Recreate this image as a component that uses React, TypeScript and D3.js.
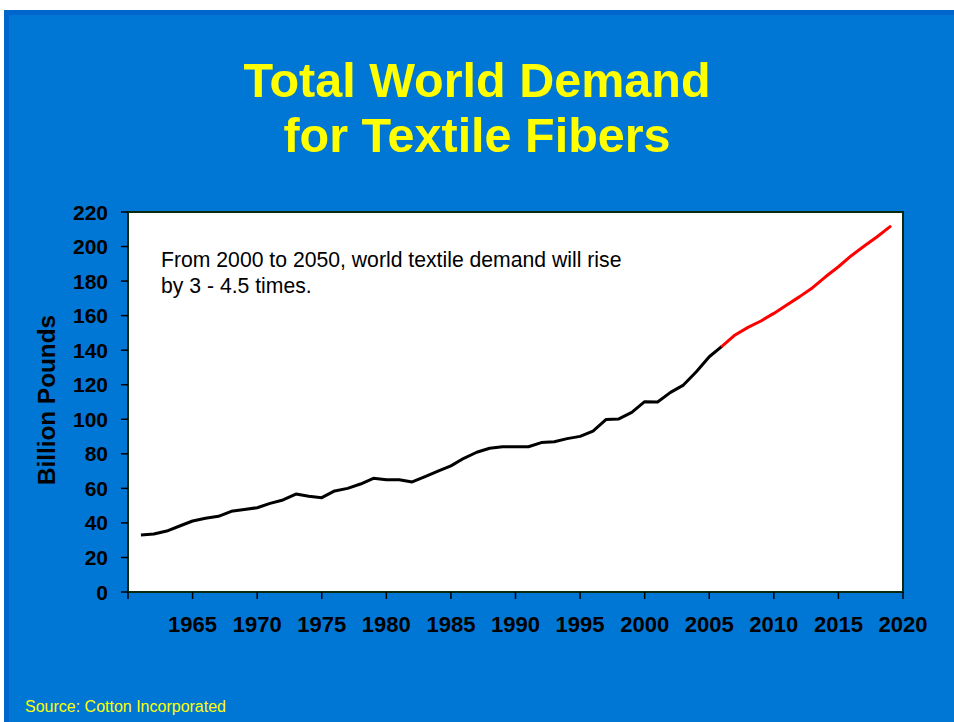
import React from "react";
import * as d3 from "d3";

const histYears = [1961,1962,1963,1964,1965,1966,1967,1968,1969,1970,1971,1972,1973,1974,1975,1976,1977,1978,1979,1980,1981,1982,1983,1984,1985,1986,1987,1988,1989,1990,1991,1992,1993,1994,1995,1996,1997,1998,1999,2000,2001,2002,2003,2004,2005,2006];
const histValues = [33.0,33.6,35.3,38.2,41.1,42.7,43.8,46.7,47.7,48.8,51.3,53.3,56.7,55.4,54.6,58.5,60.0,62.5,65.8,65.0,65.0,63.7,66.8,70.0,73.0,77.4,80.9,83.2,84.1,84.1,84.1,86.5,87.0,88.8,90.1,93.2,99.8,100.2,104.0,110.2,110.0,115.6,119.8,127.5,136.2,142.4];
const projYears = [2006,2007,2008,2009,2010,2011,2012,2013,2014,2015,2016,2017,2018,2019];
const projValues = [142.4,148.8,153.2,156.9,161.3,166.2,171.0,176.2,182.5,188.3,194.7,200.3,205.7,211.5];
const yTicks = [0,20,40,60,80,100,120,140,160,180,200,220];
const xTicks = [1960,1965,1970,1975,1980,1985,1990,1995,2000,2005,2010,2015,2020];
const xLabels = [1965,1970,1975,1980,1985,1990,1995,2000,2005,2010,2015,2020];
const titleLines = ["Total World Demand", "for Textile Fibers"];
const noteLines = ["From 2000 to 2050, world textile demand will rise", "by 3 - 4.5 times."];
const yAxisTitle = "Billion Pounds";
const sourceText = "Source: Cotton Incorporated";

export default function App() {
  const W = 954, H = 722;
  const L = 128, R = 903, T = 212, B = 592;
  const x = d3.scaleLinear().domain([1960, 2020]).range([L, R]);
  const y = d3.scaleLinear().domain([0, 220]).range([B, T]);
  const line = d3.line<[number, number]>().x(d => x(d[0])).y(d => y(d[1]));
  const hist = histYears.map((yr, i) => [yr, histValues[i]] as [number, number]);
  const proj = projYears.map((yr, i) => [yr, projValues[i]] as [number, number]);
  const font = "Arial, 'Liberation Sans', Helvetica, sans-serif";
  return (
    <svg width={W} height={H} style={{ position: "absolute", left: 0, top: 0, fontFamily: font }}>
      <rect x={0} y={0} width={W} height={H} fill="#ffffff" />
      <rect x={4} y={10} width={W - 4} height={H - 10} fill="#0066cc" />
      <rect x={9} y={15} width={W - 9} height={H - 15} fill="#0077d5" />
      {titleLines.map((t, i) => (
        <text key={i} x={477} y={97 + i * 55} textAnchor="middle" fill="#ffff00" fontWeight="bold" fontSize={48.5}>{t}</text>
      ))}
      <rect x={L} y={T} width={R - L} height={B - T} fill="#ffffff" stroke="#0a2a10" strokeWidth={2} />
      {yTicks.map(v => (
        <g key={v}>
          <line x1={L - 7} x2={L} y1={y(v)} y2={y(v)} stroke="#000" strokeWidth={1.5} />
          <text x={108} y={y(v) + 7.5} textAnchor="end" fontWeight="bold" fontSize={21} fill="#000">{v}</text>
        </g>
      ))}
      {xTicks.map(v => (
        <line key={v} x1={x(v)} x2={x(v)} y1={B} y2={B + 7} stroke="#000" strokeWidth={1.5} />
      ))}
      {xLabels.map(v => (
        <text key={v} x={x(v)} y={632} textAnchor="middle" fontWeight="bold" fontSize={22} fill="#000">{v}</text>
      ))}
      <text transform={`translate(55,400) rotate(-90)`} textAnchor="middle" fontWeight="bold" fontSize={24.3} fill="#000">{yAxisTitle}</text>
      {noteLines.map((t, i) => (
        <text key={i} x={161} y={267 + i * 26} fontSize={21.2} fill="#000">{t}</text>
      ))}
      <path d={line(hist) || ""} fill="none" stroke="#000" strokeWidth={3} strokeLinejoin="round" />
      <path d={line(proj) || ""} fill="none" stroke="#ff0000" strokeWidth={3} strokeLinejoin="round" strokeLinecap="round" />
      <text x={25} y={712} fontSize={16} fill="#ffff00">{sourceText}</text>
    </svg>
  );
}
